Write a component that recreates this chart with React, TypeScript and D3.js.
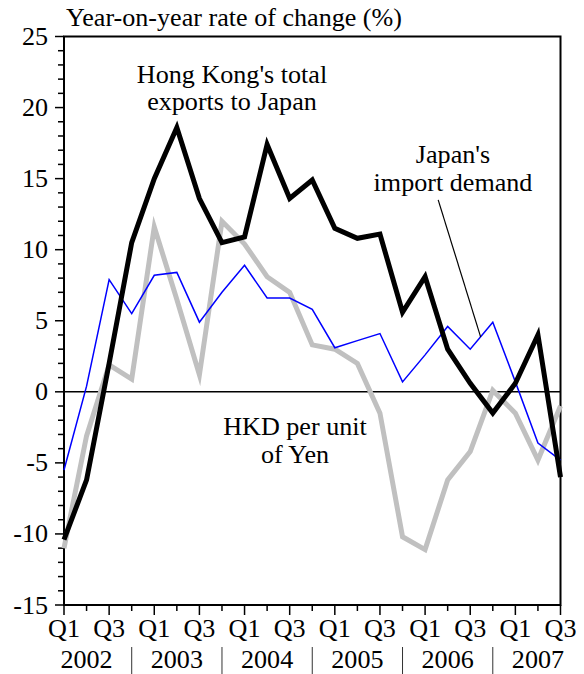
import React from "react";
import * as d3 from "d3";

const quarters = [
  "2002Q1","2002Q2","2002Q3","2002Q4",
  "2003Q1","2003Q2","2003Q3","2003Q4",
  "2004Q1","2004Q2","2004Q3","2004Q4",
  "2005Q1","2005Q2","2005Q3","2005Q4",
  "2006Q1","2006Q2","2006Q3","2006Q4",
  "2007Q1","2007Q2","2007Q3",
];
const years = ["2002", "2003", "2004", "2005", "2006", "2007"];

const hkExports = [-10.4, -6.2, 2.0, 10.5, 15.0, 18.6, 13.6, 10.5, 10.9, 17.4, 13.6, 14.9, 11.5, 10.8, 11.1, 5.6, 8.1, 3.0, 0.6, -1.5, 0.6, 4.0, -6.0];
const japanImport = [-5.5, 0.4, 7.9, 5.5, 8.2, 8.4, 4.9, 7.0, 8.9, 6.6, 6.6, 5.8, 3.1, 3.6, 4.1, 0.7, 2.6, 4.6, 3.0, 4.9, 0.7, -3.6, -4.8];
const hkdPerYen = [-11.0, -3.1, 1.9, 0.9, 11.6, 6.5, 1.2, 12.0, 10.4, 8.1, 7.0, 3.3, 3.0, 2.0, -1.5, -10.2, -11.1, -6.2, -4.2, 0.1, -1.5, -4.8, -1.0];

const yTickValues = d3.range(-15, 26, 1);

const FONT = "Liberation Serif";
const FS = 25;
const SX = 1.045;

function T(props: any) {
  const { children, x, y, dy, textAnchor } = props;
  return (
    <text
      transform={`translate(${x},${y}) scale(${SX},1)`}
      dy={dy}
      textAnchor={textAnchor}
      fontSize={FS}
      style={{ fontFamily: FONT }}
      fill="#000"
    >
      {children}
    </text>
  );
}

export default function App() {
  const W = 584, H = 674;
  const left = 64, right = 560.5, top = 36.5, bottom = 605;
  const x = d3.scaleLinear().domain([0, quarters.length - 1]).range([left, right]);
  const y = d3.scaleLinear().domain([-15, 25]).range([bottom, top]);
  const line = d3.line<number>().x((_, i) => x(i)).y((d) => y(d));

  const series = [
    { data: hkdPerYen, color: "#c0c0c0", width: 5 },
    { data: japanImport, color: "#0000ff", width: 1.5 },
    { data: hkExports, color: "#000000", width: 5 },
  ];

  return (
    <svg width={W} height={H} style={{ position: "absolute", left: 0, top: 0 }}>
      <rect x={0} y={0} width={W} height={H} fill="#fff" />
      <T x={66} y={26}>Year-on-year rate of change (%)</T>

      <rect x={left} y={top} width={right - left} height={bottom - top} fill="none" stroke="#000" strokeWidth={2} />

      {yTickValues.map((v) => {
        const major = v % 5 === 0;
        return (
          <g key={v}>
            <line x1={left - (major ? 9 : 6)} x2={left} y1={y(v)} y2={y(v)} stroke="#000" strokeWidth={1.5} />
            {major && (
              <T x={48} y={y(v)} dy="0.34em" textAnchor="end">{v}</T>
            )}
          </g>
        );
      })}

      {quarters.map((q, i) => {
        const qn = q.slice(4);
        const labeled = qn === "Q1" || qn === "Q3";
        return (
          <g key={q}>
            <line x1={x(i)} x2={x(i)} y1={bottom} y2={bottom + (labeled ? 10 : 6)} stroke="#000" strokeWidth={1.5} />
            {labeled && (
              <T x={x(i)} y={637} textAnchor="middle">{qn}</T>
            )}
          </g>
        );
      })}
      {years.map((yr) => {
        const idx = quarters.indexOf(yr + "Q2");
        const sepIdx = quarters.indexOf(yr + "Q4");
        return (
          <g key={yr}>
            <T x={x(idx)} y={668} textAnchor="middle">{yr}</T>
            {sepIdx >= 0 && sepIdx < quarters.length - 1 && (
              <line x1={x(sepIdx)} x2={x(sepIdx)} y1={647} y2={674} stroke="#333" strokeWidth={1} />
            )}
          </g>
        );
      })}

      <line x1={left} x2={right} y1={y(0)} y2={y(0)} stroke="#000" strokeWidth={1.5} />

      {series.map((s, k) => (
        <path key={k} d={line(s.data) || ""} fill="none" stroke={s.color} strokeWidth={s.width} strokeLinejoin="miter" strokeMiterlimit={10} />
      ))}

      <T x={232} y={83} textAnchor="middle">Hong Kong's total</T>
      <T x={232} y={110} textAnchor="middle">exports to Japan</T>

      <T x={453} y={163} textAnchor="middle">Japan's</T>
      <T x={453} y={191} textAnchor="middle">import demand</T>
      <line x1={x(16.58)} y1={y(13.5)} x2={x(18.46)} y2={y(3.87)} stroke="#000" strokeWidth={1.2} />

      <T x={295} y={435} textAnchor="middle">HKD per unit</T>
      <T x={295} y={463} textAnchor="middle">of Yen</T>
    </svg>
  );
}
